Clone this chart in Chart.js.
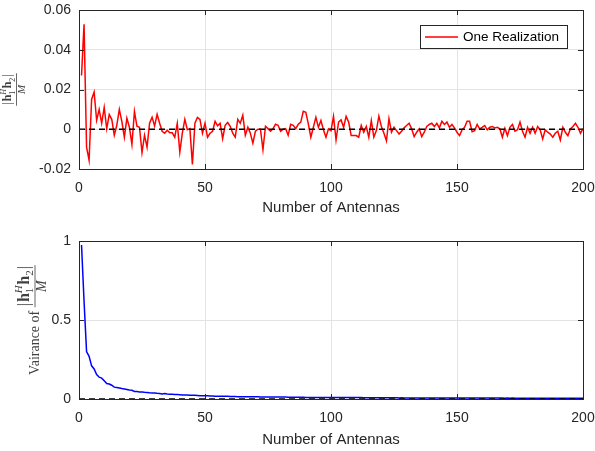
<!DOCTYPE html>
<html>
<head>
<meta charset="utf-8">
<script src="https://cdn.jsdelivr.net/npm/chart.js@4"></script>
<style>
  body { margin: 0; background: #fff; }
  #wrap { position: relative; width: 595px; height: 451px; }
  canvas { position: absolute; left: 0; }
</style>
</head>
<body>
<div id="wrap">
  <canvas id="top" width="595" height="225" style="top:0"></canvas>
  <canvas id="bottom" width="595" height="226" style="top:225px"></canvas>
</div>
<script>
// number of antennas 1..200
const antennas = Array.from({ length: 200 }, (_, i) => i + 1);

// one realization of |h1^H h2| / M
const realization = [
  0.027, 0.0528, -0.009, -0.0156, 0.015, 0.0187, 0.0045, 0.010, 0.003, 0.011,
  0.0003, 0.0074, 0.005, -0.003, 0.002, 0.010, 0.004, -0.004, 0.0055, 0.001,
  -0.0077, 0.009, 0.0015, 0.001, -0.0117, -0.003, -0.009, 0.003, 0.006, 0.0017,
  0.0075, 0.003, -0.001, -0.002, -0.0005, -0.0017, -0.0017, -0.004, 0.003, -0.0115,
  -0.002, 0.005, -0.0002, 0.0003, -0.0177, 0.003, 0.006, 0.005, -0.002, 0.003,
  -0.004, -0.002, -0.001, 0.004, 0.0017, 0.003, -0.0047, 0.002, 0.0034, 0.0015,
  -0.002, -0.004, 0.005, 0.003, 0.007, -0.003, 0.001, -0.002, -0.007, -0.001,
  0, 0, -0.0103, 0.0015, 0.0003, -0.001, 0.0003, 0.0025, 0.002, -0.001,
  0, 0.0003, -0.003, 0.0025, 0.002, 0.0003, 0.0025, 0.0036, 0.009, 0.0085,
  0.0027, -0.004, 0.001, 0.006, 0.001, 0.0044, -0.0003, -0.004, 0.0002, -0.0007,
  0.0065, -0.0054, 0.0036, 0.0047, 0.001, 0.0065, 0.0036, -0.0032, -0.0032, -0.0032,
  -0.004, 0.0019, -0.0015, 0.0014, -0.004, 0.0044, -0.004, -0.0007, 0.0066, 0.0014,
  -0.002, -0.0058, 0.0053, -0.0015, 0.001, -0.0007, -0.0024, -0.001, 0.0007, 0.0019,
  0.003, 0.0002, -0.0037, -0.0015, 0.0002, -0.0037, -0.0015, 0.0014, 0.0024, 0.003,
  0.0014, 0.003, 0.0007, 0.004, 0.0024, 0.0036, 0.001, 0.0024, 0.0007, -0.0015,
  -0.0032, -0.0003, 0.001, 0.004, 0.004, -0.0012, -0.0007, 0.0024, 0.0002, 0.001,
  0.0019, -0.0003, 0.001, 0.0014, 0.0007, 0.001, 0.0002, -0.004, 0.0005, -0.0032,
  0.001, 0.0024, -0.001, -0.0003, 0.0036, -0.001, -0.004, 0.001, -0.002, 0.001,
  -0.002, 0.0014, -0.0003, -0.0049, -0.0003, -0.0015, -0.0024, -0.004, -0.002, -0.001,
  -0.0054, 0.001, -0.0015, -0.0032, 0.0002, 0.0014, 0.003, 0.001, -0.002, 0.0002
];

// variance of |h1^H h2| / M
const variance = [
  0.975, 0.62, 0.30, 0.27, 0.21, 0.19, 0.155, 0.138, 0.132, 0.115,
  0.098, 0.095, 0.087, 0.075, 0.073, 0.070, 0.066, 0.063, 0.060, 0.057,
  0.055, 0.048, 0.047, 0.045, 0.044, 0.042, 0.041, 0.039, 0.038, 0.038,
  0.036, 0.035, 0.032, 0.034, 0.031, 0.030, 0.030, 0.029, 0.028, 0.027,
  0.026, 0.025, 0.025, 0.024, 0.023, 0.023, 0.022, 0.021, 0.021, 0.020,
  0.020, 0.019, 0.019, 0.018, 0.018, 0.018, 0.017, 0.017, 0.017, 0.016,
  0.016, 0.016, 0.015, 0.015, 0.015, 0.015, 0.014, 0.014, 0.014, 0.014,
  0.014, 0.013, 0.013, 0.013, 0.013, 0.013, 0.012, 0.012, 0.012, 0.012,
  0.012, 0.012, 0.011, 0.011, 0.011, 0.011, 0.011, 0.011, 0.011, 0.010,
  0.010, 0.010, 0.010, 0.010, 0.010, 0.010, 0.010, 0.010, 0.009, 0.009,
  0.010, 0.009, 0.009, 0.009, 0.009, 0.009, 0.009, 0.009, 0.009, 0.009,
  0.009, 0.009, 0.008, 0.008, 0.008, 0.008, 0.008, 0.008, 0.008, 0.008,
  0.008, 0.008, 0.008, 0.008, 0.008, 0.008, 0.007, 0.008, 0.007, 0.007,
  0.007, 0.007, 0.007, 0.007, 0.007, 0.007, 0.007, 0.007, 0.007, 0.007,
  0.007, 0.007, 0.007, 0.007, 0.006, 0.007, 0.006, 0.006, 0.006, 0.006,
  0.006, 0.006, 0.006, 0.006, 0.006, 0.006, 0.006, 0.006, 0.006, 0.006,
  0.006, 0.006, 0.006, 0.006, 0.006, 0.006, 0.006, 0.006, 0.005, 0.006,
  0.005, 0.006, 0.005, 0.005, 0.005, 0.005, 0.005, 0.005, 0.005, 0.005,
  0.005, 0.005, 0.005, 0.005, 0.005, 0.005, 0.005, 0.005, 0.005, 0.005,
  0.005, 0.005, 0.005, 0.005, 0.005, 0.005, 0.005, 0.005, 0.005, 0.005
];

// dashed reference line at zero
const zeroX = [0, 200];
const zeroY = [0, 0];

const xTicks = [0, 50, 100, 150, 200];
const topYTicks = [-0.02, 0, 0.02, 0.04, 0.06];
const bottomYTicks = [0, 0.5, 1];

const TEXT = '#262626';
const SANS = '"Liberation Sans", Arial, Helvetica, sans-serif';
const SERIF = '"Liberation Serif", "Times New Roman", serif';

const pts = (xs, ys) => ys.map((y, i) => ({ x: xs[i], y: y }));

// box around the axes with inward tick marks
const boxPlugin = {
  id: 'box',
  afterDatasetsDraw(chart) {
    const { ctx, chartArea: a, scales } = chart;
    ctx.save();
    ctx.strokeStyle = TEXT;
    ctx.lineWidth = 1;
    ctx.strokeRect(Math.round(a.left) + 0.5, Math.round(a.top) + 0.5,
      Math.round(a.right - a.left), Math.round(a.bottom - a.top));
    const t = 5;
    ctx.beginPath();
    scales.x.ticks.forEach(tk => {
      const px = Math.round(scales.x.getPixelForValue(tk.value)) + 0.5;
      ctx.moveTo(px, a.bottom); ctx.lineTo(px, a.bottom - t);
      ctx.moveTo(px, a.top); ctx.lineTo(px, a.top + t);
    });
    scales.y.ticks.forEach(tk => {
      const py = Math.round(scales.y.getPixelForValue(tk.value)) + 0.5;
      ctx.moveTo(a.left, py); ctx.lineTo(a.left + t, py);
      ctx.moveTo(a.right, py); ctx.lineTo(a.right - t, py);
    });
    ctx.stroke();
    ctx.restore();
  }
};

// legend box inside the plot
const legendPlugin = {
  id: 'boxLegend',
  afterDraw(chart, args, opts) {
    if (!opts.show) return;
    const ctx = chart.ctx;
    const ds = chart.data.datasets[opts.index];
    ctx.save();
    ctx.fillStyle = '#fff';
    ctx.fillRect(420.5, 25.5, 147, 23);
    ctx.strokeStyle = TEXT;
    ctx.lineWidth = 1;
    ctx.strokeRect(420.5, 25.5, 147, 23);
    ctx.strokeStyle = ds.borderColor;
    ctx.lineWidth = 1.5;
    ctx.beginPath();
    ctx.moveTo(425, 37); ctx.lineTo(458, 37);
    ctx.stroke();
    ctx.fillStyle = '#000';
    ctx.font = '13.5px ' + SANS;
    ctx.textBaseline = 'middle';
    ctx.fillText(ds.label, 463, 37.5);
    ctx.restore();
  }
};

// rotated y label: optional prefix followed by the fraction |h1^H h2| / M
function numerator(ctx, x, y, s, draw) {
  const reg = s + 'px ' + SERIF;
  const bold = 'bold ' + reg;
  const sm = Math.round(s * 0.7) + 'px ' + SERIF;
  const smIt = 'italic ' + sm;
  let cx = x;
  const put = (txt, f, dy) => {
    ctx.font = f;
    if (draw) ctx.fillText(txt, cx, y + dy);
    return ctx.measureText(txt).width;
  };
  cx += put('|', reg, 0) + 1;
  cx += put('h', bold, 0);
  const w1 = put('1', sm, s * 0.28);
  const w2 = put('H', smIt, -s * 0.42);
  cx += Math.max(w1, w2) + 0.5;
  cx += put('h', bold, 0);
  cx += put('2', sm, s * 0.28) + 1;
  cx += put('|', reg, 0);
  return cx - x;
}

const fracLabelPlugin = {
  id: 'fracLabel',
  afterDraw(chart, args, o) {
    const ctx = chart.ctx;
    const a = chart.chartArea;
    const cy = (a.top + a.bottom) / 2;
    ctx.save();
    ctx.fillStyle = '#404040';
    ctx.strokeStyle = '#404040';
    ctx.textBaseline = 'alphabetic';
    ctx.translate(o.barX, cy);
    ctx.rotate(-Math.PI / 2);
    // local y = 0 is the fraction bar; positive y goes toward the plot
    let preW = 0;
    if (o.prefix) {
      ctx.font = o.prefixSize + 'px ' + SERIF;
      preW = ctx.measureText(o.prefix).width;
    }
    const numW = numerator(ctx, 0, 0, o.numSize, false);
    ctx.font = 'italic ' + o.denSize + 'px ' + SERIF;
    const denW = ctx.measureText('M').width;
    const fw = Math.max(numW, denW) + 2;
    const start = -(preW + fw) / 2;
    if (o.prefix) {
      ctx.font = o.prefixSize + 'px ' + SERIF;
      ctx.fillText(o.prefix, start, o.prefixSize * 0.3);
    }
    const fx = start + preW;
    ctx.lineWidth = 0.8;
    ctx.beginPath();
    ctx.moveTo(fx, 0); ctx.lineTo(fx + fw, 0);
    ctx.stroke();
    numerator(ctx, fx + (fw - numW) / 2, -o.numSize * 0.3 - 1.5, o.numSize, true);
    ctx.font = 'italic ' + o.denSize + 'px ' + SERIF;
    ctx.fillText('M', fx + (fw - denW) / 2, o.denSize * 0.68 + 1.5);
    ctx.restore();
  }
};

function makeChart(id, cfg) {
  return new Chart(document.getElementById(id).getContext('2d'), {
    type: 'line',
    data: {
      datasets: [
        {
          label: 'zero',
          data: pts(zeroX, zeroY),
          borderColor: '#000',
          borderWidth: 1.5,
          borderDash: [6, 4],
          pointRadius: 0
        },
        {
          label: cfg.label,
          data: pts(antennas, cfg.values),
          borderColor: cfg.color,
          borderWidth: 1.5,
          pointRadius: 0,
          tension: 0
        }
      ]
    },
    options: {
      responsive: false,
      animation: false,
      devicePixelRatio: 1,
      layout: { padding: { left: 0, right: 12, top: cfg.padTop, bottom: 0 } },
      plugins: {
        legend: { display: false },
        tooltip: { enabled: false },
        boxLegend: { show: cfg.legend, index: 1 },
        fracLabel: cfg.yLabel
      },
      scales: {
        x: {
          type: 'linear',
          min: 0,
          max: 200,
          afterBuildTicks: s => { s.ticks = xTicks.map(v => ({ value: v })); },
          afterFit: s => {
            s.height = cfg.xHeight;
            s.paddingLeft = 0;
            s.paddingRight = 0;
          },
          grid: { color: '#e3e3e3', drawTicks: false },
          border: { display: false },
          ticks: { color: TEXT, font: { family: SANS, size: 14 }, padding: 11, maxRotation: 0 },
          title: {
            display: true,
            text: 'Number of Antennas',
            color: TEXT,
            font: { family: SANS, size: 15 },
            padding: { top: 0, bottom: cfg.titlePad }
          }
        },
        y: {
          min: cfg.yMin,
          max: cfg.yMax,
          afterBuildTicks: s => { s.ticks = cfg.yTicks.map(v => ({ value: v })); },
          afterFit: s => {
            s.width = 79;
            s.paddingTop = 0;
            s.paddingBottom = 0;
          },
          grid: { color: '#e3e3e3', drawTicks: false },
          border: { display: false },
          ticks: {
            color: TEXT,
            font: { family: SANS, size: 14 },
            padding: 8,
            callback: v => String(Number(v.toFixed(2)))
          }
        }
      }
    },
    plugins: [boxPlugin, legendPlugin, fracLabelPlugin]
  });
}

makeChart('top', {
  label: 'One Realization',
  values: realization,
  color: '#ff0000',
  legend: true,
  padTop: 10,
  xHeight: 56,
  titlePad: 8,
  yMin: -0.02,
  yMax: 0.06,
  yTicks: topYTicks,
  yLabel: { barX: 16.5, prefix: '', numSize: 12, denSize: 11 }
});

makeChart('bottom', {
  label: 'Variance',
  values: variance,
  color: '#0000ff',
  legend: false,
  padTop: 16,
  xHeight: 52,
  titlePad: 2,
  yMin: 0,
  yMax: 1,
  yTicks: bottomYTicks,
  yLabel: { barX: 35, prefix: 'Vairance of ', prefixSize: 14, numSize: 16, denSize: 14 }
});
</script>
</body>
</html>
